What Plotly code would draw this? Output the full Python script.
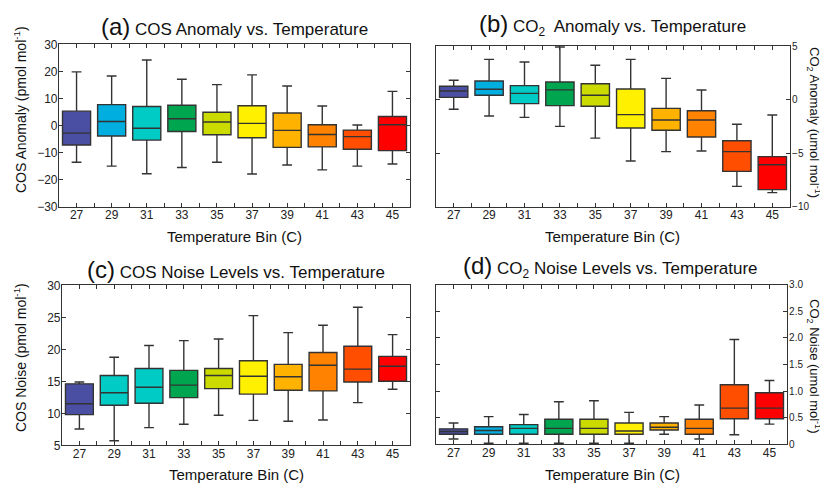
import plotly.graph_objects as go

# page has an 8px body margin: the figure is drawn at (8, 8) inside the 828x484 window
OX, OY = 8, 8
W, H = 828 - OX, 484 - OY

bins = ["27", "29", "31", "33", "35", "37", "39", "41", "43", "45"]
colors = ["#4B4FA3", "#00AEDF", "#00CBC4", "#00A550", "#CBDB00",
          "#FFF000", "#FFB300", "#FF8200", "#FF4E00", "#FF0000"]
colors_c = ["#4B4FA3", "#00CBC4", "#00CBC4", "#00A550", "#CBDB00",
            "#FFF000", "#FFB300", "#FF8200", "#FF4E00", "#FF0000"]

# (a) COS anomaly (pmol/mol)
a_low = [-13.6, -15.0, -17.8, -15.5, -13.6, -17.9, -14.6, -16.4, -15.0, -14.2]
a_q1 = [-7.2, -3.9, -5.4, -2.2, -3.4, -4.5, -8.1, -7.9, -8.8, -9.3]
a_med = [-2.8, 1.5, -1.0, 2.5, 1.3, 0.8, -1.8, -3.3, -4.1, 0.3]
a_q3 = [5.3, 7.7, 7.0, 7.5, 4.9, 7.3, 4.6, 0.3, -1.7, 3.3]
a_high = [19.8, 18.3, 24.2, 17.1, 15.1, 18.7, 14.6, 7.2, 0.2, 12.6]

# (b) CO2 anomaly (umol/mol)
b_low = [-0.9, -1.53, -1.66, -2.5, -3.6, -5.74, -4.86, -4.8, -8.1, -8.69]
b_q1 = [0.2, 0.4, -0.38, -0.57, -0.63, -2.65, -2.87, -3.49, -6.7, -8.41]
b_med = [0.8, 0.96, 0.58, 0.9, 0.4, -1.41, -1.91, -1.91, -4.86, -6.08]
b_q3 = [1.24, 1.73, 1.3, 1.64, 1.48, 0.99, -0.82, -1.04, -3.84, -5.33]
b_high = [1.8, 3.75, 3.5, 4.9, 3.2, 3.75, 1.98, 0.89, -2.31, -1.44]

# (c) COS noise (pmol/mol)
c_low = [7.55, 5.7, 7.76, 8.3, 9.7, 8.9, 8.75, 8.96, 11.67, 13.75]
c_q1 = [9.8, 11.25, 11.56, 12.45, 13.85, 13.0, 13.6, 13.5, 14.9, 15.0]
c_med = [11.5, 13.2, 14.06, 14.4, 15.9, 15.8, 15.7, 17.5, 16.9, 17.34]
c_q3 = [14.6, 15.9, 17.0, 16.7, 17.0, 18.2, 17.65, 19.5, 20.47, 18.9]
c_high = [14.9, 18.75, 20.6, 21.35, 21.6, 25.26, 22.6, 23.75, 26.56, 22.3]

# (d) CO2 noise (umol/mol)
d_low = [0.10, 0.02, 0.02, 0.02, 0.02, 0.02, 0.19, 0.10, 0.18, 0.38]
d_q1 = [0.19, 0.19, 0.19, 0.19, 0.19, 0.19, 0.27, 0.19, 0.48, 0.48]
d_med = [0.24, 0.26, 0.30, 0.30, 0.30, 0.25, 0.32, 0.30, 0.68, 0.68]
d_q3 = [0.29, 0.33, 0.37, 0.47, 0.47, 0.40, 0.40, 0.47, 1.12, 0.97]
d_high = [0.40, 0.52, 0.56, 0.80, 0.82, 0.60, 0.52, 0.74, 1.97, 1.20]

FONT = "Liberation Sans, Arial, sans-serif"
LINE = "#333333"


def fx(xpx):
    return (xpx - OX) / W


def fy(ypx):
    return 1 - (ypx - OY) / H


# panel pixel boxes in window coordinates: (x0, x1, ytop, ybottom)
panels = [
    dict(key="", box=(59, 410, 44.3, 206.7), data=(a_low, a_q1, a_med, a_q3, a_high), cols=colors),
    dict(key="2", box=(436, 790, 46, 206.7), data=(b_low, b_q1, b_med, b_q3, b_high), cols=colors),
    dict(key="3", box=(62, 410, 285.3, 445.3), data=(c_low, c_q1, c_med, c_q3, c_high), cols=colors_c),
    dict(key="4", box=(436, 787, 284.7, 444.3), data=(d_low, d_q1, d_med, d_q3, d_high), cols=colors),
]

fig = go.Figure()
for p in panels:
    low, q1, med, q3, high = p["data"]
    for j in range(len(bins)):
        fig.add_trace(go.Box(
            x=[j], q1=[q1[j]], median=[med[j]], q3=[q3[j]],
            lowerfence=[low[j]], upperfence=[high[j]],
            fillcolor=p["cols"][j], line=dict(color=LINE, width=1.4),
            whiskerwidth=0.35, width=0.8, boxpoints=False,
            showlegend=False, hoverinfo="skip",
            xaxis="x" + p["key"], yaxis="y" + p["key"]))


def xaxis(box, anchor):
    x0, x1, _, _ = box
    return dict(domain=[fx(x0), fx(x1)], anchor=anchor, range=[-0.5, 9.5],
                tickmode="array", tickvals=list(range(10)), ticktext=bins,
                ticks="inside", ticklen=4, tickcolor=LINE, mirror="allticks",
                showline=True, linecolor=LINE, linewidth=1.2, showgrid=False,
                zeroline=False, automargin=False, ticklabelstandoff=-3,
                tickfont=dict(size=12, family=FONT, color="#222"),
                minor=dict(tickvals=[k + 0.5 for k in range(9)], ticks="inside",
                           ticklen=4, tickcolor=LINE, showgrid=False))


def yaxis(box, anchor, **kw):
    _, _, yt, yb = box
    d = dict(domain=[fy(yb), fy(yt)], anchor=anchor,
             ticks="inside", ticklen=4, tickcolor=LINE, mirror="allticks",
             showline=True, linecolor=LINE, linewidth=1.2, showgrid=False,
             zeroline=False, automargin=False, ticklabelstandoff=-2,
             tickfont=dict(size=12, family=FONT, color="#222"))
    d.update(kw)
    return d


layout = dict(
    width=W, height=H, autosize=False, margin=dict(l=0, r=0, t=0, b=0, pad=0),
    paper_bgcolor="white", plot_bgcolor="white", boxmode="overlay",
    font=dict(family=FONT, color="#222"),
    xaxis=xaxis(panels[0]["box"], "y"),
    yaxis=yaxis(panels[0]["box"], "x", range=[-30, 30], tickmode="array",
                tickvals=[-30, -20, -10, 0, 10, 20, 30]),
    xaxis2=xaxis(panels[1]["box"], "y2"),
    yaxis2=yaxis(panels[1]["box"], "x2", range=[-10, 5], side="right",
                 tickmode="array", tickvals=[-10, -5, 0, 5], ticklabelstandoff=-1,
                 tickfont=dict(size=10, family=FONT, color="#222")),
    xaxis3=xaxis(panels[2]["box"], "y3"),
    yaxis3=yaxis(panels[2]["box"], "x3", range=[5, 30], tickmode="array",
                 tickvals=[5, 10, 15, 20, 25, 30]),
    xaxis4=xaxis(panels[3]["box"], "y4"),
    yaxis4=yaxis(panels[3]["box"], "x4", range=[0, 3], side="right",
                 tickmode="array", tickvals=[0, 0.5, 1, 1.5, 2, 2.5, 3],
                 ticktext=["0", "0.5", "1.0", "1.5", "2.0", "2.5", "3.0"],
                 ticklabelstandoff=-1,
                 tickfont=dict(size=10, family=FONT, color="#222")),
)
fig.update_layout(**layout)


def ann(text, xpx, ypx, size, angle=0):
    fig.add_annotation(text=text, x=fx(xpx), y=fy(ypx), xref="paper", yref="paper",
                       showarrow=False, textangle=angle, xanchor="center", yanchor="middle",
                       font=dict(size=size, family=FONT, color="#111"))


BIG = "<span style='font-size:24px'>%s</span> "
ann(BIG % "(a)" + "COS Anomaly vs. Temperature", 234, 27, 17)
ann(BIG % "(b)" + "CO<sub>2</sub>  Anomaly vs. Temperature", 612, 25, 17)
ann(BIG % "(c)" + "COS Noise Levels vs. Temperature", 236, 269, 17)
ann(BIG % "(d)" + "CO<sub>2</sub> Noise Levels vs. Temperature", 610, 266, 17)

ann("Temperature Bin (C)", 234, 236, 15)
ann("Temperature Bin (C)", 612, 236, 15)
ann("Temperature Bin (C)", 236, 474, 15)
ann("Temperature Bin (C)", 612, 474, 15)

ann("COS Anomaly (pmol mol<sup>-1</sup>)", 20, 110, 14, -90)
ann("COS Noise (pmol mol<sup>-1</sup>)", 20, 358, 14, -90)
ann("CO<sub>2</sub> Anomaly (umol mol<sup>-1</sup>)", 814, 122, 13, 90)
ann("CO<sub>2</sub> Noise (umol mol<sup>-1</sup>)", 814, 366, 13, 90)

fig.write_html("out.html")
